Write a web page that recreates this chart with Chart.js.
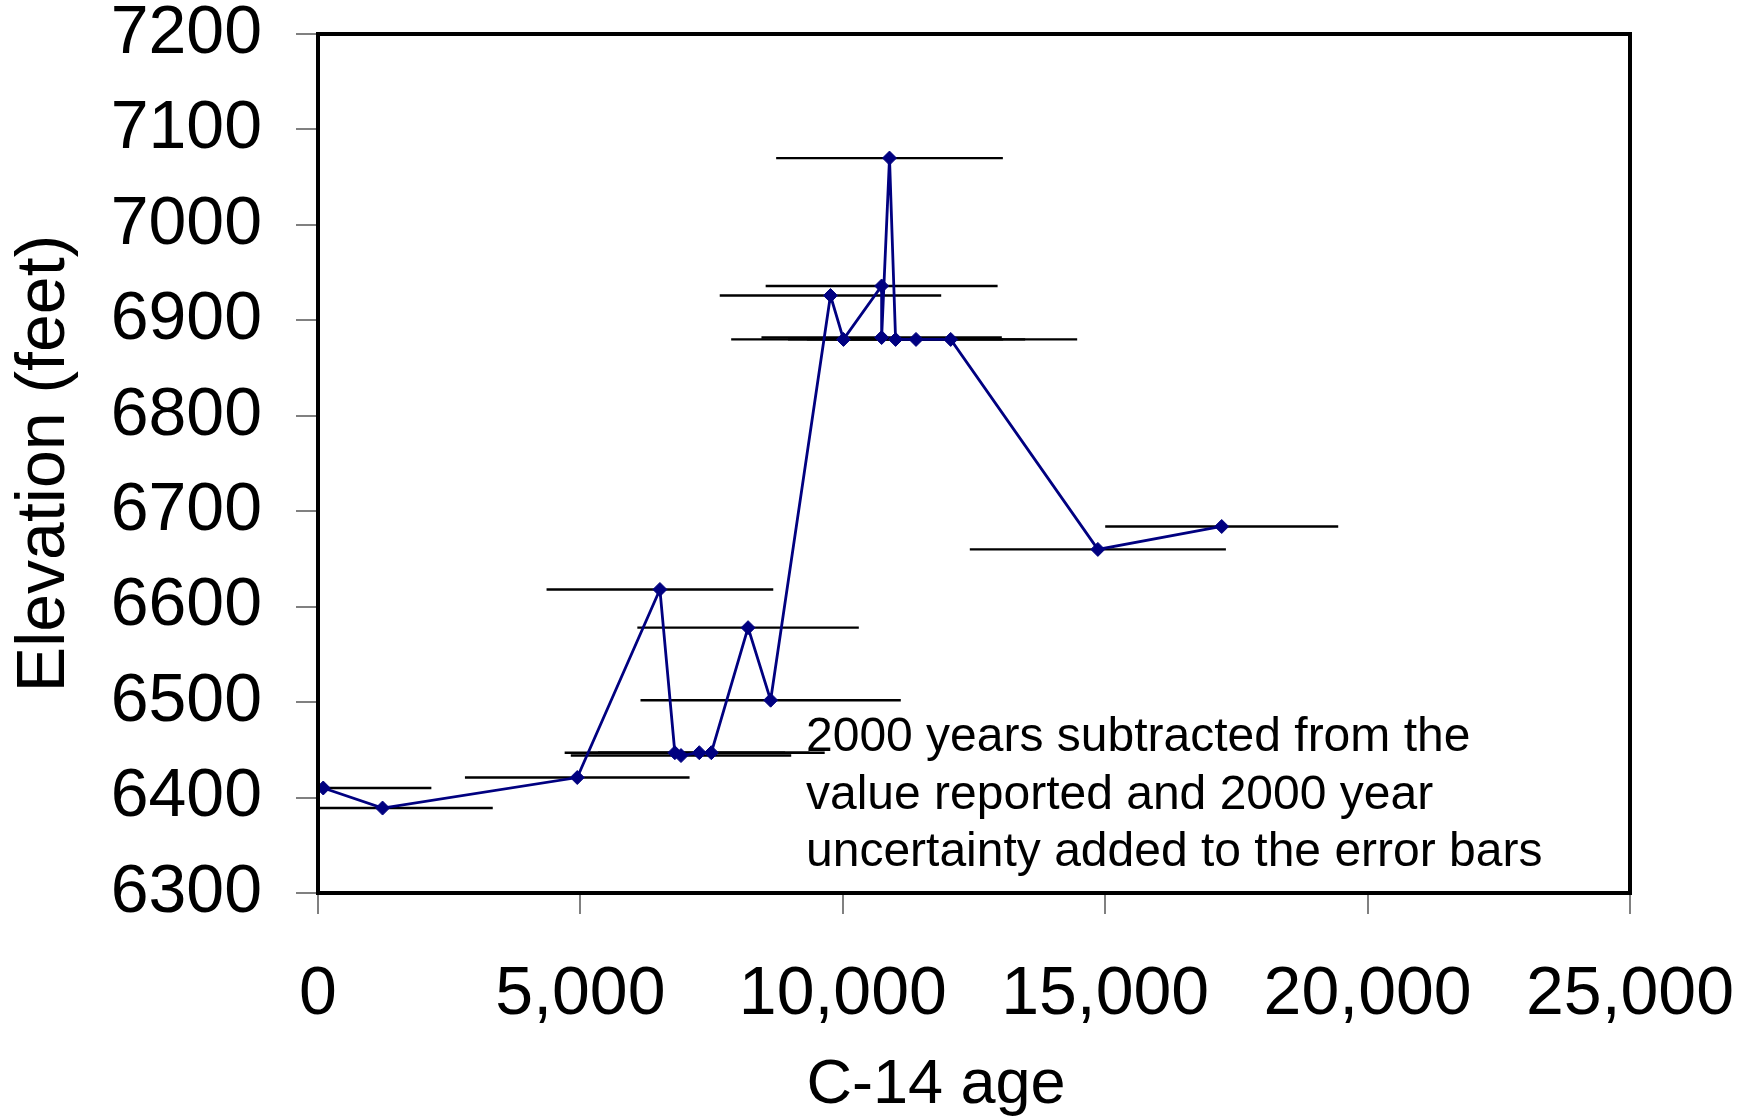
<!DOCTYPE html>
<html>
<head>
<meta charset="utf-8">
<script src="https://cdn.jsdelivr.net/npm/chart.js@4"></script>
<style>
  body { margin: 0; background: #fff; }
  #wrap { width: 1756px; height: 1119px; }
</style>
</head>
<body>
<div id="wrap"><canvas id="myChart" width="1756" height="1119"></canvas></div>
<script>
'use strict';

// C-14 ages (years), elevations (feet) and the +/- age uncertainty of each sample
const ages = [100, 1230, 4940, 6515, 6800, 6917, 7265, 7495, 8195, 8625,
              9765, 10013, 10740, 10740, 10890, 11006, 11395, 12056, 14860, 17220];
const elevations = [6410, 6389, 6421, 6618, 6447, 6444, 6447, 6447, 6578, 6502,
                    6926, 6880, 6936, 6882, 7070, 6880, 6880, 6880, 6660, 6684];
const ageErrors = [2060, 2100, 2140, 2160, 2100, 2100, 2100, 2160, 2110, 2480,
                   2110, 2140, 2210, 2290, 2160, 2050, 2080, 2410, 2440, 2220];

const xTicks = [0, 5000, 10000, 15000, 20000, 25000];
const yTicks = [6300, 6400, 6500, 6600, 6700, 6800, 6900, 7000, 7100, 7200];

const noteLines = [
  '2000 years subtracted from the',
  'value reported and 2000 year',
  'uncertainty added to the error bars'
];

const FONT = '"Liberation Sans", Arial, sans-serif';

let datasets = [{
  data: ages.map((a, i) => ({x: a, y: elevations[i]})),
  showLine: true,
  borderColor: '#000080',
  borderWidth: 2.8,
  backgroundColor: '#000080',
  pointStyle: 'rectRot',
  pointRadius: 7,
  pointBorderWidth: 1,
  pointBorderColor: '#000080'
}];

// one horizontal segment per sample for the age error bars
ages.forEach((a, i) => {
  datasets.push({
    data: [{x: a - ageErrors[i], y: elevations[i]}, {x: a + ageErrors[i], y: elevations[i]}],
    showLine: true,
    borderColor: '#000',
    borderWidth: 2.4,
    pointRadius: 0
  });
});

// frame around the plot, x axis title and the note
const extras = {
  id: 'extras',
  afterDraw(chart) {
    const ctx = chart.ctx;
    const area = chart.chartArea;
    ctx.save();
    ctx.strokeStyle = '#000';
    ctx.lineWidth = 4;
    ctx.strokeRect(area.left, area.top, area.right - area.left, area.bottom - area.top);

    ctx.fillStyle = '#000';
    ctx.textAlign = 'center';
    ctx.textBaseline = 'alphabetic';
    ctx.font = '63px ' + FONT;
    ctx.fillText('C-14 age', 936, 1103);

    ctx.textAlign = 'left';
    ctx.font = '48px ' + FONT;
    noteLines.forEach((line, i) => {
      ctx.fillText(line, 806, 751 + i * 57.7);
    });
    ctx.restore();
  }
};

const ctx = document.getElementById('myChart').getContext('2d');
const myChart = new Chart(ctx, {
  type: 'scatter',
  data: {datasets: datasets},
  plugins: [extras],
  options: {
    responsive: false,
    animation: false,
    layout: {padding: {top: 34, right: 126, bottom: 0, left: 0}},
    plugins: {legend: {display: false}, tooltip: {enabled: false}},
    scales: {
      x: {
        type: 'linear',
        min: 0,
        max: 25000,
        afterFit(scale) {
          scale.height = 226;
          scale.paddingLeft = 0;
          scale.paddingRight = 0;
        },
        afterBuildTicks(scale) { scale.ticks = xTicks.map(v => ({value: v})); },
        border: {display: false},
        grid: {drawOnChartArea: false, drawTicks: true, tickLength: 21, color: '#808080', lineWidth: 2},
        ticks: {
          color: '#000',
          padding: 40,
          maxRotation: 0,
          font: {family: FONT, size: 68, lineHeight: 1.2},
          callback: v => v.toLocaleString('en-US')
        }
      },
      y: {
        min: 6300,
        max: 7200,
        afterFit(scale) {
          scale.width = 318;
          scale.paddingTop = 0;
          scale.paddingBottom = 0;
        },
        afterBuildTicks(scale) { scale.ticks = yTicks.map(v => ({value: v})); },
        border: {display: false},
        grid: {drawOnChartArea: false, drawTicks: true, tickLength: 22, color: '#808080', lineWidth: 2},
        ticks: {
          color: '#000',
          padding: 34,
          font: {family: FONT, size: 68, lineHeight: 1.0},
          callback: v => String(v)
        },
        title: {
          display: true,
          text: 'Elevation (feet)',
          color: '#000',
          font: {family: FONT, size: 68, lineHeight: 1.2},
          padding: {top: 4, bottom: 0}
        }
      }
    }
  }
});
</script>
</body>
</html>
